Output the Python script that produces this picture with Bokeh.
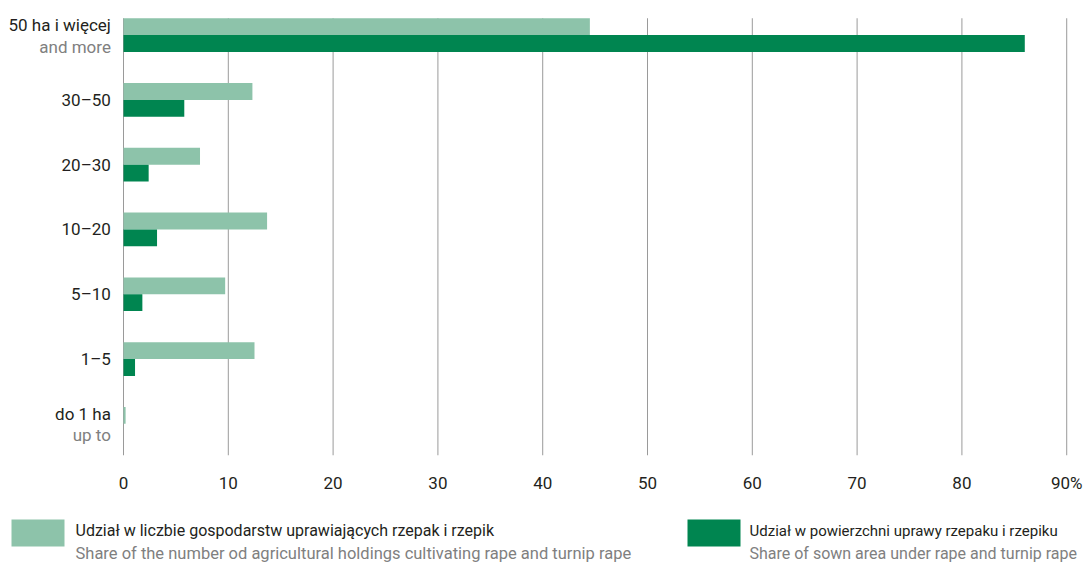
from bokeh.plotting import figure
from bokeh.layouts import column
from bokeh.models import Range1d, FixedTicker, ColumnDataSource
from bokeh.core.properties import value
from bokeh.embed import file_html
from bokeh.resources import INLINE

# ---- data ----
categories = ["50 ha i więcej", "30–50", "20–30", "10–20", "5–10", "1–5", "do 1 ha"]
categories_en = ["and more", "", "", "", "", "", "up to"]
share_holdings = [44.5, 12.3, 7.3, 13.7, 9.7, 12.5, 0.2]
share_area = [86.0, 5.8, 2.4, 3.2, 1.8, 1.1, 0.0]
x_ticks = [0, 10, 20, 30, 40, 50, 60, 70, 80, 90]
legend_pl = ["Udział w liczbie gospodarstw uprawiających rzepak i rzepik",
             "Udział w powierzchni uprawy rzepaku i rzepiku"]
legend_en = ["Share of the number od agricultural holdings cultivating rape and turnip rape",
             "Share of sown area under rape and turnip rape"]

LIGHT = "#8dc3aa"
DARK = "#008550"
TXT = "#231f20"
GRAY = "#808080"
FONT = "Roboto"

n = len(categories)
idx = list(range(n))
bar_h = 0.26

p = figure(width=1090, height=495, output_backend="svg", toolbar_location=None,
           x_range=Range1d(-11.737, 92.27), y_range=Range1d(6.489, -0.534),
           y_axis_location=None, min_border_left=0, min_border_right=0,
           min_border_top=0, min_border_bottom=35)
p.outline_line_color = None
p.grid.visible = False

# grid lines
p.segment(x0=x_ticks, x1=x_ticks, y0=[-bar_h] * len(x_ticks), y1=[6.489] * len(x_ticks),
          line_color="#9a9a9a", line_width=1)

src = ColumnDataSource(dict(
    y_light=[i - bar_h / 2 for i in idx],
    y_dark=[i + bar_h / 2 for i in idx],
    holdings=share_holdings, area=share_area))
p.hbar(y="y_light", right="holdings", left=0, height=bar_h, source=src,
       fill_color=LIGHT, line_color=None)
p.hbar(y="y_dark", right="area", left=0, height=bar_h, source=src,
       fill_color=DARK, line_color=None)

# category labels
pl_y = [i - 0.15 if categories_en[i] else i for i in idx]
en_i = [i for i in idx if categories_en[i]]
p.text(x=[-1.2] * n, y=pl_y, text=categories, text_align="right", text_baseline="middle",
       text_font=value(FONT), text_font_size="17px", text_color=TXT)
p.text(x=[-1.2] * len(en_i), y=[i + 0.18 for i in en_i], text=[categories_en[i] for i in en_i],
       text_align="right", text_baseline="middle",
       text_font=value(FONT), text_font_size="17px", text_color=GRAY)

ax = p.xaxis[0]
ax.ticker = FixedTicker(ticks=x_ticks)
ax.major_label_overrides = {90: "90%"}
ax.axis_line_color = None
ax.major_tick_line_color = None
ax.minor_tick_line_color = None
ax.major_label_standoff = 11
ax.major_label_text_font = FONT
ax.major_label_text_font_size = "17px"
ax.major_label_text_color = TXT

# legend figure
lg = figure(width=1090, height=71, output_backend="svg", toolbar_location=None,
            x_range=Range1d(0, 1090), y_range=Range1d(566, 495),
            x_axis_location=None, y_axis_location=None, min_border=0)
lg.outline_line_color = None
lg.grid.visible = False
lg.rect(x=[37.5, 713.5], y=[532.5, 532.5], width=53, height=27,
        fill_color=[LIGHT, DARK], line_color=None)
lg.text(x=[75, 749], y=[530, 530], text=legend_pl, text_baseline="middle",
        text_font=value(FONT), text_font_size=["16px", "15px"], text_color=TXT)
lg.text(x=[75, 749], y=[553, 553], text=legend_en, text_baseline="middle",
        text_font=value(FONT), text_font_size=["16.5px", "16px"], text_color=GRAY)

layout = column(p, lg, spacing=0)
open("out.html", "w").write(file_html(layout, INLINE))
